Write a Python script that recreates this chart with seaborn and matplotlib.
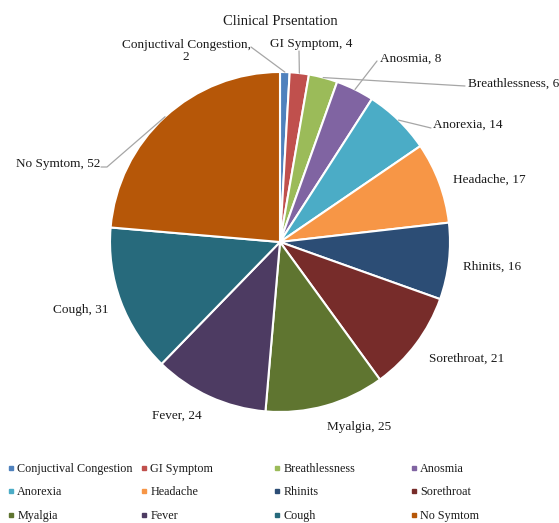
import numpy as np
import matplotlib.pyplot as plt
from matplotlib.lines import Line2D
import seaborn as sns

# data
symptoms = ["Conjuctival Congestion", "GI Symptom", "Breathlessness", "Anosmia",
            "Anorexia", "Headache", "Rhinits", "Sorethroat",
            "Myalgia", "Fever", "Cough", "No Symtom"]
counts = [2, 4, 6, 8, 14, 17, 16, 21, 25, 24, 31, 52]
colors = ["#4F81BD", "#C0504D", "#9BBB59", "#8064A2", "#4BACC6", "#F79646",
          "#2C4D75", "#772C2A", "#5F7530", "#4D3B62", "#276A7C", "#B65708"]

sns.set_style("white")
plt.rcParams['font.family'] = ['Liberation Serif', 'DejaVu Serif']

W, H = 559, 523
cx, cy, R = 280, 242, 170   # pie centre / radius in pixels

fig = plt.figure(figsize=(W / 100, H / 100), dpi=100)
ax = fig.add_axes([0, 0, 1, 1])

wedges, _ = ax.pie(counts, colors=colors, startangle=90, counterclock=False,
                   wedgeprops=dict(edgecolor='white', linewidth=1.5))
# pie resets limits, so fix the pixel scale afterwards
ax.set_aspect('auto')
ax.set_xlim(-cx / R, (W - cx) / R)
ax.set_ylim(-(H - cy) / R, cy / R)
ax.axis('off')


def px(x, y):
    return ((x - cx) / R, (cy - y) / R)


# label placement (pixels): x, y, ha, leader line?
label_pos = {
    "Conjuctival Congestion": (186, 51, 'center', True),
    "GI Symptom": (270, 44, 'left', True),
    "Breathlessness": (468, 84, 'left', True),
    "Anosmia": (380, 59, 'left', True),
    "Anorexia": (433, 125, 'left', True),
    "Headache": (453, 180, 'left', False),
    "Rhinits": (463, 267, 'left', False),
    "Sorethroat": (429, 359, 'left', False),
    "Myalgia": (327, 427, 'left', False),
    "Fever": (152, 416, 'left', False),
    "Cough": (53, 310, 'left', False),
    "No Symtom": (100, 164, 'right', True),
}
line_start = {
    "Conjuctival Congestion": (251, 47),
    "GI Symptom": (299, 51),
    "Breathlessness": (465, 86),
    "Anosmia": (377, 61),
    "Anorexia": (431, 128),
    "No Symtom": (101, 167),
}

total = sum(counts)
cum = 0
for name, val in zip(symptoms, counts):
    mid = 90 - (cum + val / 2) / total * 360
    cum += val
    x, y, ha, has_line = label_pos[name]
    if name == "Conjuctival Congestion":
        txt = f"{name},\n{val}"
    else:
        txt = f"{name}, {val}"
    ax.text(*px(x, y), txt, ha=ha, va='center', fontsize=9.5,
            color='#1a1a1a', linespacing=1.05)
    if has_line:
        ex, ey = np.cos(np.radians(mid)), np.sin(np.radians(mid))
        sx, sy = px(*line_start[name])
        if name == "No Symtom":
            kx, ky = px(107, 167)
            ax.plot([sx, kx, ex], [sy, ky, ey], color='#A6A6A6', lw=0.9)
        else:
            ax.plot([sx, ex], [sy, ey], color='#A6A6A6', lw=0.9)

ax.text(*px(280, 22), "Clinical Prsentation", ha='center', va='center',
        fontsize=10.5, color='#1a1a1a')

# legend: 4 fixed-width columns, row-wise order
col_x = [7, 140, 273, 410]
for j in range(4):
    idx = [j, j + 4, j + 8]
    handles = [Line2D([], [], marker='s', ls='none', markersize=3.2,
                      color=colors[i]) for i in idx]
    fig.legend(handles, [symptoms[i] for i in idx],
               loc='upper left', bbox_to_anchor=(col_x[j] / W, 1 - 463 / H),
               frameon=False, fontsize=8.7, handlelength=0.6,
               handletextpad=0.25, borderpad=0, borderaxespad=0,
               labelspacing=0.95, labelcolor='#1a1a1a')

fig.savefig("out.png", dpi=100)
